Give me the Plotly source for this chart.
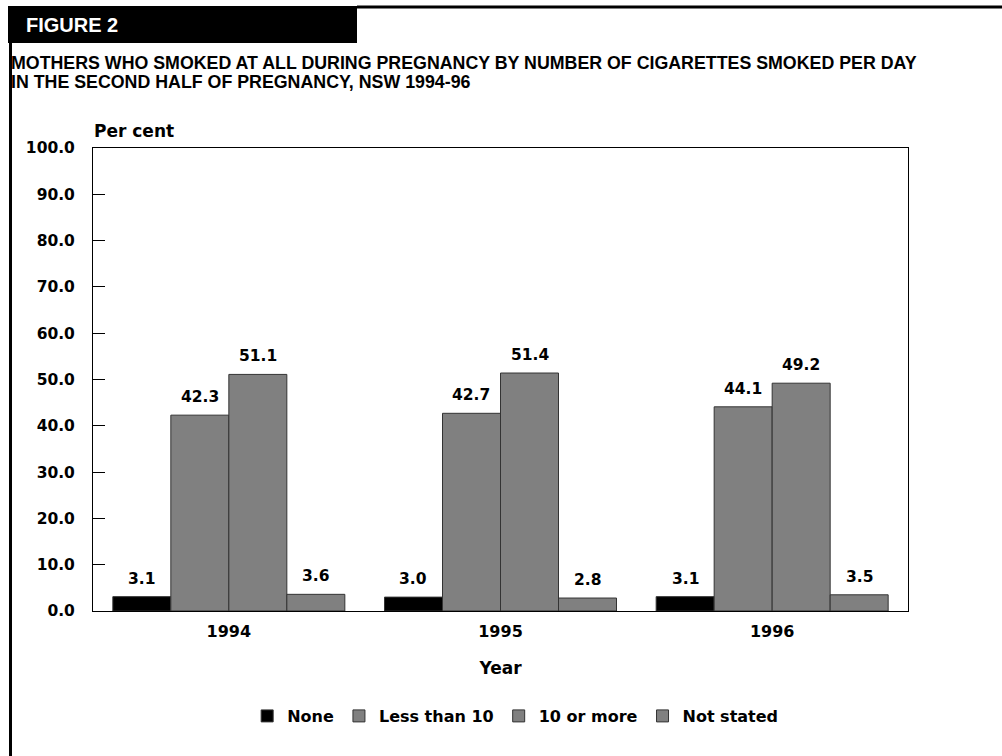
import plotly.graph_objects as go

years = ["1994", "1995", "1996"]
series_names = ["None", "Less than 10", "10 or more", "Not stated"]
none_vals = [3.1, 3.0, 3.1]
less10_vals = [42.3, 42.7, 44.1]
more10_vals = [51.1, 51.4, 49.2]
notstated_vals = [3.6, 2.8, 3.5]
y_ticks = [0, 10, 20, 30, 40, 50, 60, 70, 80, 90, 100]

W, H = 1002, 756
L, R, T, B = 93, 94, 148, 145
PW = W - L - R
PH = H - T - B
BARGAP = 0.146


def px(x):
    return (x - L) / PW


def py(y):
    return (H - B - y) / PH


FONT = "DejaVu Sans, Liberation Sans, sans-serif"
TFONT = "Liberation Sans, Arial, sans-serif"
colors = ["#000000", "#808080", "#808080", "#808080"]
values = [none_vals, less10_vals, more10_vals, notstated_vals]

fig = go.Figure()
for name, vals, c in zip(series_names, values, colors):
    fig.add_trace(go.Bar(
        x=years, y=vals, name=name,
        marker=dict(color=c, line=dict(color="#333333", width=1)),
    ))

fig.update_layout(
    width=W, height=H,
    margin=dict(l=L, r=R, t=T, b=B, pad=0),
    paper_bgcolor="white", plot_bgcolor="white",
    barmode="group", bargap=BARGAP, bargroupgap=0,
    showlegend=True,
    legend=dict(orientation="h", x=0.518, xanchor="center", y=py(716), yanchor="middle",
                font=dict(family=FONT, size=16, color="#000000", weight="bold"),
                itemwidth=30, traceorder="normal", bgcolor="rgba(0,0,0,0)"),
    font=dict(family=FONT, color="#000000"),
    xaxis=dict(
        type="category", range=[-0.5, len(years) - 0.5],
        showline=True, linecolor="#000000", linewidth=1, mirror=True,
        ticks="", tickfont=dict(family=FONT, size=16, color="#000000", weight="bold"),
        ticklabelstandoff=6,
        title=dict(text="Year", font=dict(family=FONT, size=17, color="#000000", weight="bold"), standoff=21),
        showgrid=False,
    ),
    yaxis=dict(
        range=[0, 100], tickvals=y_ticks, tickformat=".1f",
        showline=True, linecolor="#000000", linewidth=1, mirror=True,
        ticks="inside", ticklen=12, tickcolor="#000000", tickwidth=1,
        tickfont=dict(family=FONT, size=15.5, color="#000000", weight="bold"),
        showgrid=False, zeroline=False, ticklabelstandoff=14,
    ),
)

shapes = [
    dict(type="rect", xref="paper", yref="paper", x0=px(8), x1=px(357), y0=py(6), y1=py(43),
         fillcolor="#000000", line=dict(width=0), layer="above"),
    dict(type="line", xref="paper", yref="paper", x0=px(357), x1=px(1002), y0=py(7), y1=py(7),
         line=dict(color="#000000", width=3)),
    dict(type="line", xref="paper", yref="paper", x0=px(10.5), x1=px(10.5), y0=py(43), y1=py(756),
         line=dict(color="#000000", width=3)),
]
fig.update_layout(shapes=shapes)

anns = [
    dict(text="FIGURE 2", x=px(24), y=py(25), xref="paper", yref="paper", xanchor="left", yanchor="middle",
         showarrow=False, font=dict(family=TFONT, size=20, color="#ffffff", weight="bold")),
    dict(text="MOTHERS WHO SMOKED AT ALL DURING PREGNANCY BY NUMBER OF CIGARETTES SMOKED PER DAY",
         x=px(9), y=py(63), xref="paper", yref="paper", xanchor="left", yanchor="middle",
         showarrow=False, font=dict(family=TFONT, size=17.8, color="#000000", weight="bold")),
    dict(text="IN THE SECOND HALF OF PREGNANCY, NSW 1994-96",
         x=px(9), y=py(82), xref="paper", yref="paper", xanchor="left", yanchor="middle",
         showarrow=False, font=dict(family=TFONT, size=17.8, color="#000000", weight="bold")),
    dict(text="Per cent", x=px(92), y=py(131), xref="paper", yref="paper", xanchor="left", yanchor="middle",
         showarrow=False, font=dict(family=FONT, size=17, color="#000000", weight="bold")),
]

# value labels above each bar, positioned via the data axes (category index)
bar_w = PW / len(years) * (1 - BARGAP) / len(series_names)
for i, vals in enumerate(values):
    off = (i - (len(series_names) - 1) / 2) * bar_w
    for j, v in enumerate(vals):
        anns.append(dict(text=f"{v:.1f}", x=j, y=v, xref="x", yref="y", xanchor="center",
                         yanchor="bottom", xshift=off, yshift=7, showarrow=False,
                         font=dict(family=FONT, size=15.5, color="#000000", weight="bold")))
fig.update_layout(annotations=anns)

fig.write_html("out.html")
